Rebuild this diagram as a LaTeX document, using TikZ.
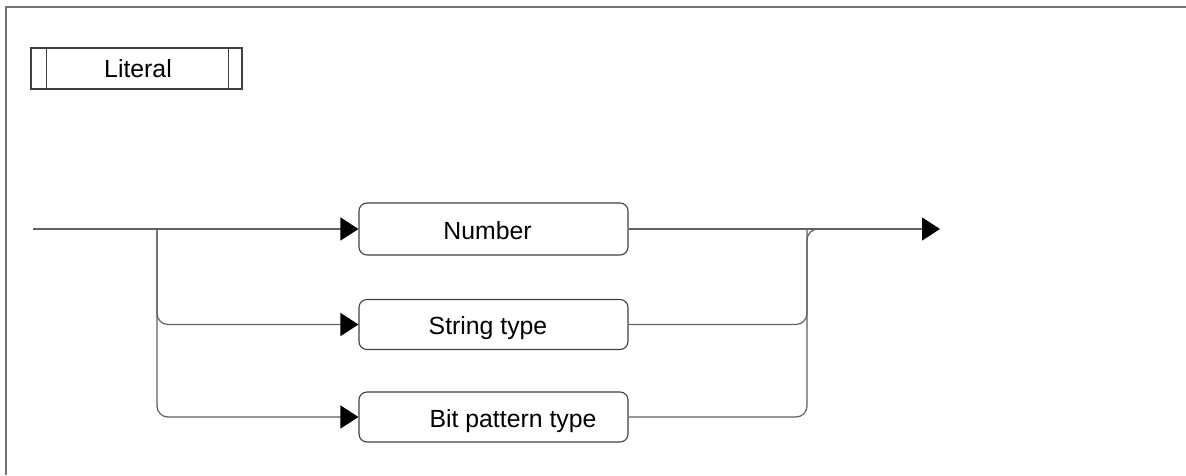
\documentclass[tikz,border=0pt]{standalone}
\usepackage{fontspec}
\setmainfont{Liberation Sans}
\usetikzlibrary{arrows.meta}
\begin{document}
\begin{tikzpicture}[x=1pt,y=-1pt,
  font=\fontsize{24.8}{29}\selectfont,
  frameline/.style={draw=black!55,line width=1.4pt},
  wire/.style={draw=black!62,line width=1.2pt},
  flow/.style={wire,-{Triangle[length=18pt,width=23pt,color=black,fill=black]}},
  choice/.style={wire,rounded corners=11pt},
  term/.style={draw=black!75,line width=1.1pt,rounded corners=8pt,
    minimum width=269pt,inner sep=0pt,text depth=0pt},
  title/.style={draw=black!75,line width=1.1pt,minimum width=211pt,
    minimum height=41pt,inner sep=0pt},
  tick/.style={draw=black!75,line width=1.1pt}]
\useasboundingbox (0,0) rectangle (1186,475);
\fill[white] (0,0) rectangle (1186,475);

% outer frame (left and top edges)
\draw[frameline] (6,475) -- (6,7) -- (1186,7);

% production name
\node[title] (lit) at (136.5,68.5) {\kern3pt\raisebox{-2pt}{Literal}};
\draw[tick] ([xshift=16pt]lit.north west) -- ([xshift=16pt]lit.south west);
\draw[tick] ([xshift=-14pt]lit.north east) -- ([xshift=-14pt]lit.south east);

% alternatives
\node[term,minimum height=52pt] (num) at (493.5,229) {\raisebox{-3pt}{Number}\kern12pt};
\node[term,minimum height=50pt] (str) at (493.5,324.5) {\raisebox{-3pt}{String type}\kern11pt};
\node[term,minimum height=50pt] (bit) at (493.5,417) {\kern39pt\raisebox{-3pt}{Bit pattern type}};

% junction points
\coordinate (start) at (33,229);
\coordinate (split) at (157,229);
\coordinate (merge) at (807,229);
\coordinate (mergeout) at (850,229);
\coordinate (end) at (940,229);

% entry and branches
\draw[flow] (start) -- (num.west);
\draw[flow,rounded corners=11pt] (split) |- (str.west);
\draw[flow,rounded corners=11pt] (split) |- (bit.west);

% exit and rejoining branches
\draw[flow] (num.east) -- (end);
\draw[choice] (str.east) -| (merge);
\draw[choice] (bit.east) -| (merge) -- (mergeout);
\end{tikzpicture}
\end{document}
